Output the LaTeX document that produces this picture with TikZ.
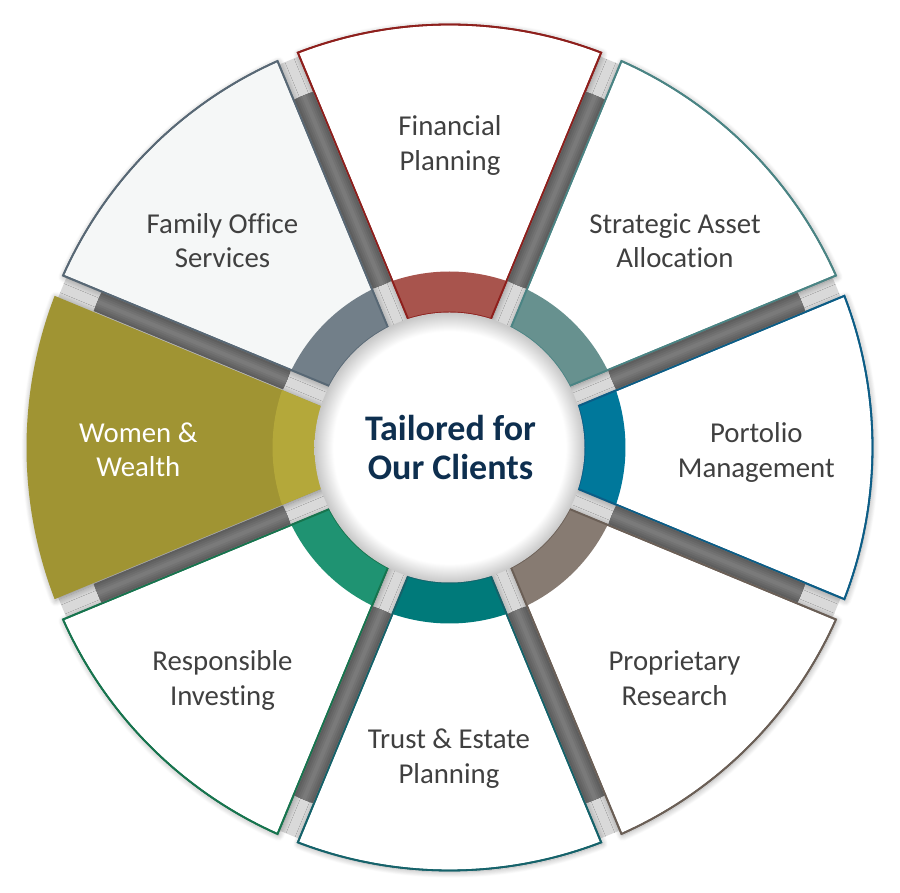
\documentclass[tikz,border=0pt]{standalone}
\usepackage{fontspec}
\setmainfont{Carlito}[Ligatures={NoCommon}]
\usetikzlibrary{shadows.blur}
\definecolor{fpB}{HTML}{8E1F1C}\definecolor{fpR}{HTML}{A8544D}
\definecolor{saB}{HTML}{4A8484}\definecolor{saR}{HTML}{67918F}
\definecolor{pmB}{HTML}{0C5D86}\definecolor{pmR}{HTML}{00789B}
\definecolor{prB}{HTML}{6B5F56}\definecolor{prR}{HTML}{877B72}
\definecolor{teB}{HTML}{15626A}\definecolor{teR}{HTML}{007A7A}
\definecolor{riB}{HTML}{17744E}\definecolor{riR}{HTML}{1F9372}
\definecolor{wwF}{HTML}{A09433}\definecolor{wwR}{HTML}{B4A83A}
\definecolor{foB}{HTML}{586875}\definecolor{foR}{HTML}{727F89}\definecolor{foF}{HTML}{F5F7F7}
\definecolor{spkL}{HTML}{D9D9D9}
\definecolor{spkA}{HTML}{5E5E5E}\definecolor{spkB}{HTML}{656565}
\definecolor{spkC}{HTML}{6C6C6C}\definecolor{spkD}{HTML}{737373}\definecolor{spkE}{HTML}{7A7A7A}
\definecolor{lbltext}{HTML}{404040}\definecolor{ctrtext}{HTML}{0E2F4F}
\pgfdeclareradialshading{ctrshade}{\pgfpoint{0bp}{0bp}}{color(0bp)=(white); color(21.5bp)=(white); color(25bp)=(black!22); color(50bp)=(black!22)}
\def\wgap{11}
\newcommand{\wedgepath}[3]{({#1-22.5+asin(\wgap/#3)}:#3) arc[start angle={#1-22.5+asin(\wgap/#3)}, end angle={#1+22.5-asin(\wgap/#3)}, radius=#3] -- ({#1+22.5-asin(\wgap/#2)}:#2) arc[start angle={#1+22.5-asin(\wgap/#2)}, end angle={#1-22.5+asin(\wgap/#2)}, radius=#2] -- cycle}
\tikzset{
  segshadow/.style={blur shadow={shadow xshift=1pt, shadow yshift=-1.5pt, shadow blur radius=6pt, shadow opacity=35, shadow blur steps=10}},
  segline/.style={line width=1.8pt, line join=miter},
  spokelight/.style={line width=24pt, spkL},
  lbl/.style={align=center, text=lbltext, font=\fontsize{28.8}{34.5}\selectfont},
  ctr/.style={align=center, text=ctrtext, font=\bfseries\fontsize{36}{38.3}\selectfont}
}
\begin{document}
\begin{tikzpicture}[x=1pt,y=1pt]
\useasboundingbox (-449.5,-445.5) rectangle (450.5,447.5);
% light spoke backgrounds
\foreach \a in {22.5,67.5,...,337.5} {\draw[spokelight] (\a:130) -- (\a:419);}
% segments
\foreach \ang/\bd/\bn/\fl in {90/fpB/fpR/white, 45/saB/saR/white, 0/pmB/pmR/white, -45/prB/prR/white, -90/teB/teR/white, -135/riB/riR/white, 135/foB/foR/foF}
{
  \filldraw[segshadow, fill=\fl, draw=\bd, segline] \wedgepath{\ang}{135}{423};
  \fill[\bn] \wedgepath{\ang}{135}{176};
  \draw[\bd, segline] \wedgepath{\ang}{135}{423};
}
\fill[segshadow, wwF] \wedgepath{180}{133}{423};
\fill[wwR] \wedgepath{180}{133}{177};
% dark spokes (layered for a soft cylindrical look)
\foreach \a [count=\i] in {22.5,67.5,...,337.5} {
  \coordinate (s\i) at (\a:176);
  \coordinate (e\i) at (\a:381);
  \draw[line width=20.2pt, spkA] (s\i) -- (e\i);
  \draw[line width=16pt, spkB] (s\i) -- (e\i);
  \draw[line width=12pt, spkC] (s\i) -- (e\i);
  \draw[line width=8pt, spkD] (s\i) -- (e\i);
  \draw[line width=4pt, spkE] (s\i) -- (e\i);
}
% centre disc
\shade[shading=ctrshade] (0,0) circle (135);
% labels
\node[lbl] (fp) at (0.5,302.2) {Financial\\Planning};
\node[lbl] (sa) at (225.5,207) {Strategic Asset\\Allocation};
\node[lbl] (pm) at (306.8,-5) {Portolio\\Management};
\node[lbl] (pr) at (225,-230.5) {Proprietary\\Research};
\node[lbl] (te) at (-0.5,-311.3) {Trust \& Estate\\Planning};
\node[lbl] (ri) at (-227,-233.2) {Responsible\\Investing};
\node[lbl, text=white] (ww) at (-311.2,-2.2) {Women \&\\Wealth};
\node[lbl] (fo) at (-227,207) {Family Office\\Services};
\node[ctr] (hub) at (1,0) {Tailored for\\Our Clients};
\end{tikzpicture}
\end{document}
